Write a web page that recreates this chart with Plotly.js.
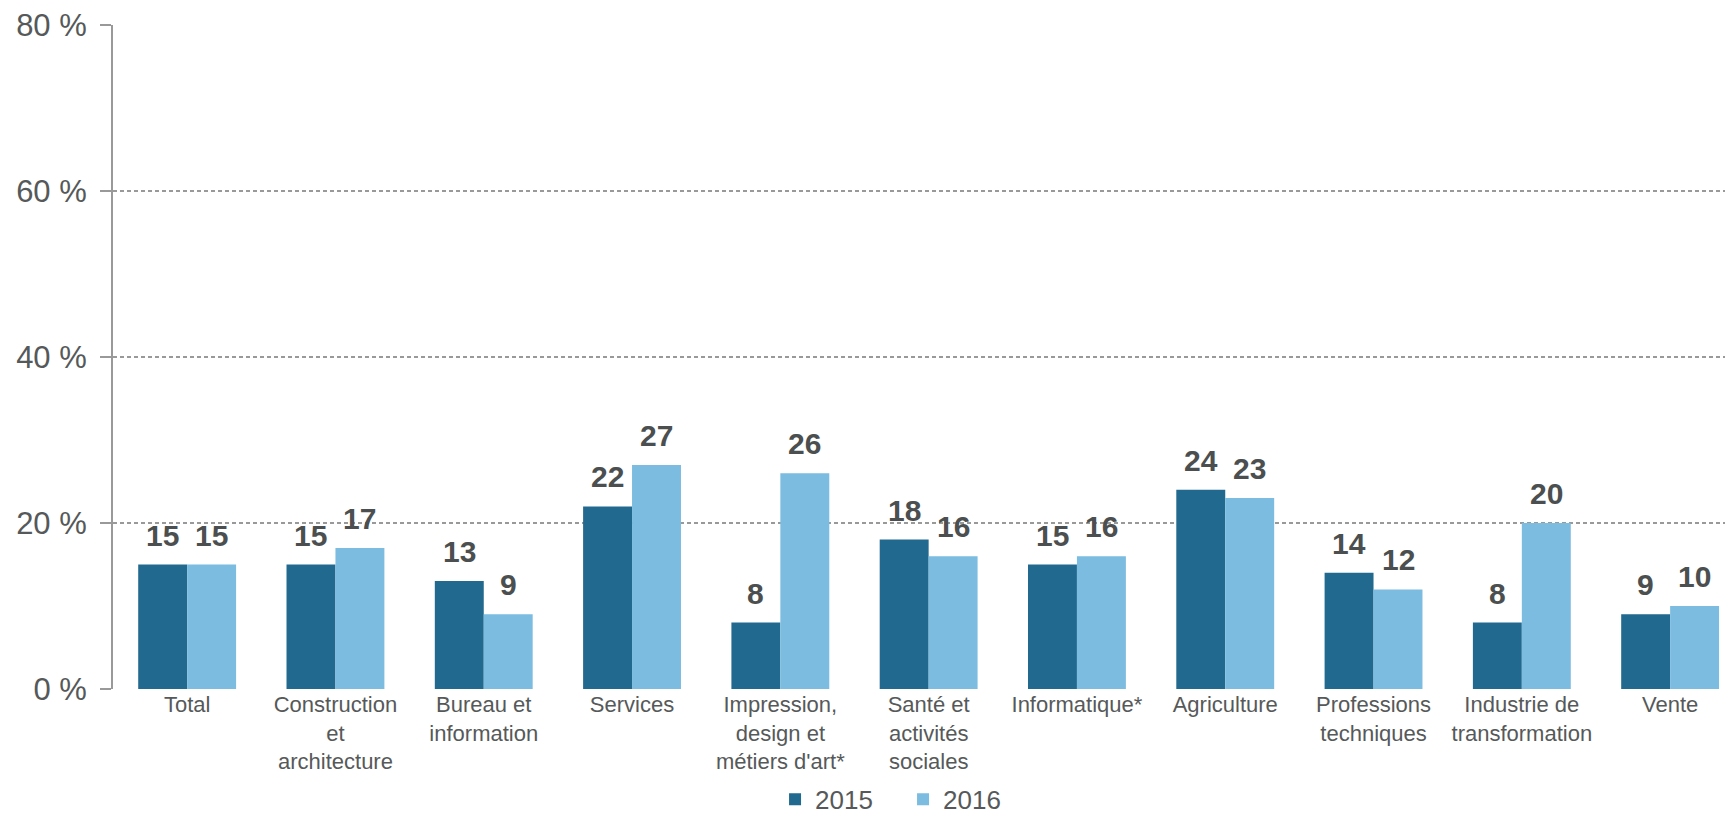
<!DOCTYPE html>
<html>
<head>
<meta charset="utf-8">
<script src="https://cdn.plot.ly/plotly-3.0.1.min.js"></script>
<style>html,body{margin:0;padding:0;background:#fff;}#chart{width:1725px;height:819px;}</style>
</head>
<body>
<div id="chart"></div>
<script>
const categories = [
  "Total",
  "Construction<br>et<br>architecture",
  "Bureau et<br>information",
  "Services",
  "Impression,<br>design et<br>métiers d'art*",
  "Santé et<br>activités<br>sociales",
  "Informatique*",
  "Agriculture",
  "Professions<br>techniques",
  "Industrie de<br>transformation",
  "Vente"
];
const values2015 = [15, 15, 13, 22, 8, 18, 15, 24, 14, 8, 9];
const values2016 = [15, 17, 9, 27, 26, 16, 16, 23, 12, 20, 10];
const seriesNames = ["2015", "2016"];
const yTickValues = [0, 20, 40, 60, 80];
const yTickLabels = ["0 %", "20 %", "40 %", "60 %", "80 %"];

const colDark = "#22698f";
const colLight = "#7bbce0";
const textCol = "#565959";
const labelCol = "#4b4f4f";
const FONT = "Liberation Sans, Arial, sans-serif";

const xIdx = categories.map((c, i) => i);

const traces = [
  {type: "bar", name: seriesNames[0], x: xIdx, y: values2015, marker: {color: colDark}, hoverinfo: "none"},
  {type: "bar", name: seriesNames[1], x: xIdx, y: values2016, marker: {color: colLight}, hoverinfo: "none"}
];

const annotations = [];
const off = 24.5;
[values2015, values2016].forEach((vals, s) => {
  vals.forEach((v, i) => {
    annotations.push({
      x: i, y: v, xref: "x", yref: "y",
      text: String(v), showarrow: false,
      xshift: s === 0 ? -off : off, yshift: 11,
      yanchor: "bottom", xanchor: "center",
      font: {family: FONT, size: 30, color: labelCol, weight: "bold"}
    });
  });
});

const layout = {
  width: 1725, height: 819,
  margin: {l: 113, r: 0, t: 25, b: 130},
  paper_bgcolor: "#fff", plot_bgcolor: "#fff",
  barmode: "group", bargap: 0.34, bargroupgap: 0,
  showlegend: true,
  legend: {
    orientation: "h", xref: "paper", x: 0.4107, xanchor: "left",
    yref: "container", y: 0.024, yanchor: "middle",
    font: {family: FONT, size: 26, color: textCol},
    itemwidth: 30, traceorder: "normal", entrywidth: 83
  },
  xaxis: {
    type: "linear",
    range: [-0.5, 10.37],
    tickmode: "array", tickvals: xIdx, ticktext: categories,
    tickangle: 0, automargin: false,
    showgrid: false, zeroline: false, showline: false,
    ticks: "", tickfont: {family: FONT, size: 22, color: textCol},
    fixedrange: true
  },
  yaxis: {
    range: [0, 80], automargin: false,
    tickmode: "array", tickvals: yTickValues, ticktext: yTickLabels,
    showgrid: true, gridcolor: "#999999", griddash: "4px,3px", gridwidth: 1.5,
    zeroline: false,
    showline: true, linecolor: "#999999", linewidth: 2,
    ticks: "outside", ticklen: 11, tickcolor: "#999999", tickwidth: 1.5,
    ticklabelstandoff: 7,
    tickfont: {family: FONT, size: 31, color: textCol},
    fixedrange: true
  },
  annotations: annotations
};

Plotly.newPlot("chart", traces, layout, {displayModeBar: false, staticPlot: true});
</script>
</body>
</html>
